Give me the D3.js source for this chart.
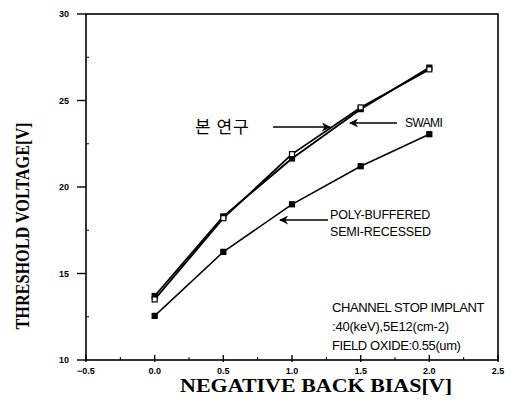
<!DOCTYPE html>
<html>
<head>
<meta charset="utf-8">
<script src="https://cdn.jsdelivr.net/npm/d3@7"></script>
<style>
  body { margin: 0; background: #fff; }
  svg { display: block; }
</style>
</head>
<body>
<script>
const width = 514, height = 408;
const margin = {top: 14, right: 16, bottom: 48, left: 86};

// data
const bias = [0.0, 0.5, 1.0, 1.5, 2.0];
const thisWork = [13.5, 18.2, 21.9, 24.6, 26.8];   // 본 연구
const swami = [13.7, 18.3, 21.65, 24.5, 26.9];
const polyBuffered = [12.55, 16.25, 19.0, 21.2, 23.05];
const xTicks = [-0.5, 0.0, 0.5, 1.0, 1.5, 2.0, 2.5];
const yTicks = [10, 15, 20, 25, 30];

const svg = d3.select("body").append("svg")
    .attr("width", width)
    .attr("height", height);

const x = d3.scaleLinear().domain([-0.5, 2.5]).range([margin.left, width - margin.right]);
const y = d3.scaleLinear().domain([10, 30]).range([height - margin.bottom, margin.top]);

// frame
svg.append("rect")
    .attr("x", x(-0.5)).attr("y", y(30))
    .attr("width", x(2.5) - x(-0.5)).attr("height", y(10) - y(30))
    .attr("fill", "none").attr("stroke", "#000").attr("stroke-width", 1.6);

// x axis ticks (inward) + labels
const gx = svg.append("g").attr("transform", `translate(0,${y(10)})`);
gx.selectAll(".major").data(xTicks).enter().append("line")
    .attr("x1", d => x(d)).attr("x2", d => x(d))
    .attr("y1", 2).attr("y2", -5)
    .attr("stroke", "#000").attr("stroke-width", 1.4);
gx.selectAll(".minor").data(d3.range(-0.25, 2.5, 0.5)).enter().append("line")
    .attr("x1", d => x(d)).attr("x2", d => x(d))
    .attr("y1", 0).attr("y2", -3)
    .attr("stroke", "#000").attr("stroke-width", 1);
gx.selectAll("text").data(xTicks).enter().append("text")
    .attr("x", d => x(d)).attr("y", 14)
    .attr("text-anchor", "middle")
    .attr("font-family", "Liberation Sans, Arial, sans-serif")
    .attr("font-weight", "bold").attr("font-size", 9)
    .text(d => d3.format(".1f")(d));

// y axis ticks (outward) + labels
const gy = svg.append("g").attr("transform", `translate(${x(-0.5)},0)`);
gy.selectAll(".major").data(yTicks).enter().append("line")
    .attr("y1", d => y(d)).attr("y2", d => y(d))
    .attr("x1", -9).attr("x2", 0)
    .attr("stroke", "#000").attr("stroke-width", 1.4);
gy.selectAll(".minor").data([12.5, 17.5, 22.5, 27.5]).enter().append("line")
    .attr("y1", d => y(d)).attr("y2", d => y(d))
    .attr("x1", 0).attr("x2", 3)
    .attr("stroke", "#000").attr("stroke-width", 1);
gy.selectAll("text").data(yTicks).enter().append("text")
    .attr("x", -17).attr("y", d => y(d) + 3)
    .attr("text-anchor", "end")
    .attr("font-family", "Liberation Sans, Arial, sans-serif")
    .attr("font-weight", "bold").attr("font-size", 9)
    .text(d => d);

// axis titles
svg.append("text")
    .attr("x", 316).attr("y", 392)
    .attr("text-anchor", "middle")
    .attr("font-family", "Liberation Serif, Times New Roman, serif")
    .attr("font-weight", "bold").attr("font-size", 19)
    .attr("textLength", 272).attr("lengthAdjust", "spacingAndGlyphs")
    .text("NEGATIVE BACK BIAS[V]");

svg.append("text")
    .attr("transform", "translate(29,226) rotate(-90)")
    .attr("text-anchor", "middle")
    .attr("font-family", "Liberation Serif, Times New Roman, serif")
    .attr("font-weight", "bold").attr("font-size", 18)
    .attr("textLength", 207).attr("lengthAdjust", "spacingAndGlyphs")
    .text("THRESHOLD VOLTAGE[V]");

// series
const line = d3.line().x(d => x(d[0])).y(d => y(d[1]));
const pts = vals => bias.map((b, i) => [b, vals[i]]);

function drawSeries(vals, sw, marker) {
    svg.append("path").datum(pts(vals))
        .attr("d", line)
        .attr("fill", "none").attr("stroke", "#000")
        .attr("stroke-width", sw).attr("stroke-linejoin", "round");
    const g = svg.append("g");
    g.selectAll("rect").data(pts(vals)).enter().append("rect")
        .attr("x", d => x(d[0]) - 2.5).attr("y", d => y(d[1]) - 2.5)
        .attr("width", 5).attr("height", 5)
        .attr("fill", marker === "open" ? "#fff" : "#000")
        .attr("stroke", "#000").attr("stroke-width", 1.2);
}
drawSeries(polyBuffered, 1.5, "filled");
drawSeries(swami, 1.8, "filled");
drawSeries(thisWork, 1.8, "open");

// annotations
svg.append("defs").append("marker")
    .attr("id", "arrow")
    .attr("viewBox", "0 0 10 10").attr("refX", 9).attr("refY", 5)
    .attr("markerWidth", 12).attr("markerHeight", 9)
    .attr("markerUnits", "userSpaceOnUse")
    .attr("orient", "auto")
    .append("path").attr("d", "M0,0 L10,5 L0,10 L3,5 Z").attr("fill", "#000");

function arrow(x1, y1, x2, y2) {
    svg.append("line")
        .attr("x1", x1).attr("y1", y1).attr("x2", x2).attr("y2", y2)
        .attr("stroke", "#000").attr("stroke-width", 1.4)
        .attr("marker-end", "url(#arrow)");
}

svg.append("text")
    .attr("x", 195).attr("y", 133)
    .attr("font-family", "Noto Sans CJK KR, sans-serif")
    .attr("font-size", 17)
    .attr("letter-spacing", 1)
    .text("본 연구");
arrow(273, 127, 330, 127);

const label = (tx, ty, t, fs, ls) => svg.append("text")
    .attr("x", tx).attr("y", ty)
    .attr("font-family", "Liberation Sans, Arial, sans-serif")
    .attr("font-size", fs || 11)
    .attr("letter-spacing", ls === undefined ? -0.6 : ls)
    .text(t);

label(405, 127, "SWAMI", 12);
arrow(397, 123, 350, 123);

label(330, 219, "POLY-BUFFERED", 12.5, -0.2);
label(330, 236, "SEMI-RECESSED", 12.5, -0.2);
arrow(328, 220, 280, 220);

label(332, 312, "CHANNEL STOP IMPLANT", 13, -0.4);
label(332, 331, ":40(keV),5E12(cm-2)", 13, -0.2);
label(332, 350, "FIELD OXIDE:0.55(um)", 13, -0.4);
</script>
</body>
</html>
